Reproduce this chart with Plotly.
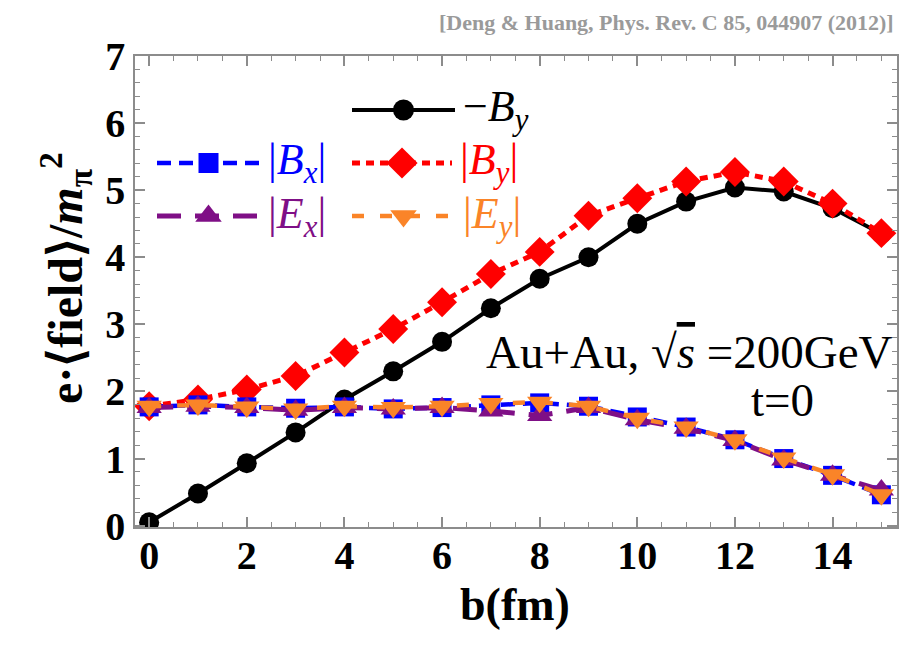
import plotly.graph_objects as go

# impact parameter b (fm)
b_fm = list(range(16))

# field strengths in units of m_pi^2 / e
neg_By = [0.05, 0.48, 0.93, 1.39, 1.88, 2.30, 2.74, 3.24, 3.68, 4.00, 4.50, 4.83, 5.04, 4.98, 4.73, 4.35]
abs_By = [1.78, 1.88, 2.03, 2.23, 2.58, 2.93, 3.33, 3.75, 4.08, 4.62, 4.88, 5.13, 5.27, 5.13, 4.80, 4.36]
abs_Bx = [1.77, 1.80, 1.77, 1.75, 1.77, 1.74, 1.76, 1.80, 1.83, 1.78, 1.62, 1.47, 1.28, 1.00, 0.75, 0.46]
abs_Ex = [1.76, 1.78, 1.76, 1.72, 1.76, 1.74, 1.76, 1.71, 1.64, 1.76, 1.58, 1.45, 1.27, 0.98, 0.75, 0.53]
abs_Ey = [1.78, 1.80, 1.77, 1.74, 1.78, 1.76, 1.78, 1.82, 1.84, 1.78, 1.60, 1.47, 1.28, 1.01, 0.76, 0.46]

x_ticks = [0, 2, 4, 6, 8, 10, 12, 14]
y_ticks = [0, 1, 2, 3, 4, 5, 6, 7]

W, H = 913, 648
ML, MR, MT, MB = 135, 16, 56, 121
X_RANGE = [-0.29, 15.32]
Y_RANGE = [-0.02, 7.0]

SERIF = "Liberation Serif, Times New Roman, serif"
BLACK, RED, BLUE, PURPLE, ORANGE = "#000000", "#ff0000", "#0000ff", "#7f0f86", "#fa8428"
FRAME = "#8c8c8c"


def px_to_data(px, py):
    """Pixel position on the page -> data coordinates of the main axes."""
    pw, ph = W - ML - MR, H - MT - MB
    x = X_RANGE[0] + (px - ML) / pw * (X_RANGE[1] - X_RANGE[0])
    y = Y_RANGE[0] + (H - MB - py) / ph * (Y_RANGE[1] - Y_RANGE[0])
    return x, y


def px_to_paper(px, py):
    pw, ph = W - ML - MR, H - MT - MB
    return (px - ML) / pw, (H - MB - py) / ph


# name, values, color, dash, width, marker symbol, marker size, legend label
series = [
    ("-By", neg_By, BLACK, "solid", 4, "circle", 20,
     "\u2212<i>B</i><sub><i>y</i></sub>"),
    ("|By|", abs_By, RED, "8px,6px", 5, "diamond", 23,
     "|<i>B</i><sub><i>y</i></sub>|"),
    ("|Bx|", abs_Bx, BLUE, "14px,8px", 4.5, "square", 19,
     "|<i>B</i><sub><i>x</i></sub>|"),
    ("|Ex|", abs_Ex, PURPLE, "24px,14px", 5, "triangle-up", 22,
     "|<i>E</i><sub><i>x</i></sub>|"),
    ("|Ey|", abs_Ey, ORANGE, "12px,16px", 4.5, "triangle-down", 22,
     "|<i>E</i><sub><i>y</i></sub>|"),
]

fig = go.Figure()
for name, vals, col, dash, lw, sym, ms, _ in series:
    fig.add_trace(go.Scatter(
        x=b_fm, y=vals, mode="lines+markers", name=name,
        line=dict(color=col, width=lw, dash=dash),
        marker=dict(symbol=sym, size=ms, color=col, line=dict(width=0)),
        showlegend=False,
    ))

# hand-placed legend: (left px, right px, row px)
legend_slots = {
    "-By": (352, 455, 110),
    "|Bx|": (157, 260, 163),
    "|By|": (352, 452, 163),
    "|Ex|": (157, 260, 216),
    "|Ey|": (352, 455, 216),
}
for name, vals, col, dash, lw, sym, ms, label in series:
    x0, x1, yy = legend_slots[name]
    xa, ya = px_to_data(x0, yy)
    xb, _ = px_to_data(x1, yy)
    xm = (xa + xb) / 2
    fig.add_trace(go.Scatter(
        x=[xa, xm, xb], y=[ya, ya, ya], mode="lines",
        line=dict(color=col, width=lw, dash=dash), showlegend=False, hoverinfo="skip",
    ))
    fig.add_trace(go.Scatter(
        x=[xm], y=[ya], mode="markers",
        marker=dict(symbol=sym, size=ms + 1, color=col, line=dict(width=0)),
        showlegend=False, hoverinfo="skip",
    ))
    ax, ay = px_to_paper(x1 + 6, yy)
    fig.add_annotation(
        x=ax, y=ay, xref="paper", yref="paper", text=label, showarrow=False,
        xanchor="left", yanchor="middle",
        font=dict(family=SERIF, size=44, color=col),
    )

x_minor = [i * 0.5 for i in range(0, 31)]
y_minor = [i * 0.2 for i in range(0, 36)]

tick_font = dict(family=SERIF, size=40, color="black", weight="bold")

fig.update_layout(
    width=W, height=H,
    margin=dict(l=ML, r=MR, t=MT, b=MB),
    paper_bgcolor="white", plot_bgcolor="white",
    xaxis=dict(range=X_RANGE, tickmode="array", tickvals=x_ticks,
               ticktext=[str(v) for v in x_ticks], ticklabelstandoff=-8,
               showgrid=False, zeroline=False,
               showline=True, linecolor=FRAME, linewidth=1.5, mirror="ticks",
               ticks="inside", ticklen=10, tickwidth=1.5, tickcolor=FRAME,
               minor=dict(tickmode="array", tickvals=x_minor, ticks="inside",
                          ticklen=5, tickwidth=1.2, tickcolor=FRAME),
               tickfont=tick_font),
    yaxis=dict(range=Y_RANGE, tickmode="array", tickvals=y_ticks,
               ticktext=[str(v) for v in y_ticks],
               showgrid=False, zeroline=False,
               showline=True, linecolor=FRAME, linewidth=1.5, mirror="ticks",
               ticks="inside", ticklen=10, tickwidth=1.5, tickcolor=FRAME,
               minor=dict(tickmode="array", tickvals=y_minor, ticks="inside",
                          ticklen=5, tickwidth=1.2, tickcolor=FRAME),
               tickfont=tick_font),
    showlegend=False,
)

# axis titles
tx, ty = px_to_paper(515, 604)
fig.add_annotation(
    x=tx, y=ty, xref="paper", yref="paper", text="<b>b(fm)</b>", showarrow=False,
    xanchor="center", yanchor="middle", font=dict(family=SERIF, size=46, color="black"),
)
tx, ty = px_to_paper(65, 278)
fig.add_annotation(
    x=tx, y=ty, xref="paper", yref="paper", textangle=-90,
    text="<b>e\u00b7\u27e8field\u27e9/<i>m</i><sub>\u03c0</sub><sup>2</sup></b>",
    showarrow=False, xanchor="center", yanchor="middle",
    font=dict(family=SERIF, size=48, color="black"),
)

# collision system label
tx, ty = px_to_paper(895, 352)
fig.add_annotation(
    x=tx, y=ty, xref="paper", yref="paper",
    text="Au+Au, \u221a<span style='text-decoration:overline'><i>s</i></span> =200GeV",
    showarrow=False, xanchor="right", yanchor="middle",
    font=dict(family=SERIF, size=47, color="black"),
)
tx, ty = px_to_paper(782, 400)
fig.add_annotation(
    x=tx, y=ty, xref="paper", yref="paper", text="t=0", showarrow=False,
    xanchor="center", yanchor="middle", font=dict(family=SERIF, size=47, color="black"),
)

# citation header
tx, ty = px_to_paper(896, 22)
fig.add_annotation(
    x=tx, y=ty, xref="paper", yref="paper",
    text="<b>[Deng &amp; Huang, Phys. Rev. C 85, 044907 (2012)]</b>",
    showarrow=False, xanchor="right", yanchor="middle",
    font=dict(family=SERIF, size=22, color="#9a9a9a"),
)

fig.write_html("out.html")
